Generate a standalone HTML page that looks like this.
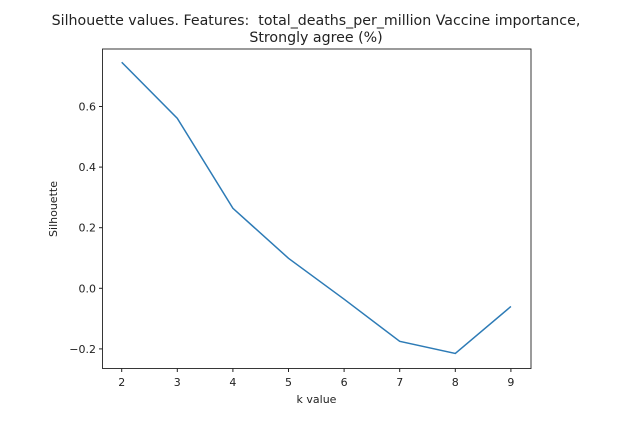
<!DOCTYPE html>
<html><head><meta charset="utf-8"><style>
body{margin:0;background:#fff;font-family:"Liberation Sans","DejaVu Sans",sans-serif}
svg text{font-family:"DejaVu Sans","Liberation Sans",sans-serif;fill:#222}
</style></head><body>
<svg id="chart" width="630" height="432" xmlns="http://www.w3.org/2000/svg">
<text x="316" y="25" font-size="14.2" text-anchor="middle">Silhouette values. Features:&#160; total_deaths_per_million Vaccine importance,</text>
<text x="316" y="42" font-size="14.2" text-anchor="middle">Strongly agree (%)</text>
<rect x="102.5" y="49" width="428.5" height="319.5" fill="none" stroke="#222" stroke-width="0.9"/>
<g id="xticks"></g>
<g id="yticks"></g>
<text x="316.5" y="403" font-size="11" text-anchor="middle">k value</text>
<text transform="translate(57,209) rotate(-90)" font-size="11" text-anchor="middle">Silhouette</text>
<path id="line" fill="none" stroke="#2d7bb6" stroke-width="1.5"/>
</svg>
<script>
const kValues=[2,3,4,5,6,7,8,9];
const silhouette=[0.746,0.561,0.264,0.099,-0.036,-0.175,-0.215,-0.06];
const xTicks=[2,3,4,5,6,7,8,9];
const yTicks=[-0.2,0.0,0.2,0.4,0.6];
const yTickLabels=["\u22120.2","0.0","0.2","0.4","0.6"];
const sx=v=>121.7+(v-2)*55.6;
const sy=v=>288.3-v*303;
const NS="http://www.w3.org/2000/svg";
const xg=document.getElementById('xticks'),yg=document.getElementById('yticks');
xTicks.forEach(t=>{
 const l=document.createElementNS(NS,'line');
 
 
 l.setAttribute('x1',sx(t));l.setAttribute('x2',sx(t));l.setAttribute('y1',368.5);l.setAttribute('y2',372);l.setAttribute('stroke','#222');
 xg.appendChild(l);
 const tx=document.createElementNS(NS,'text');
 
 
 tx.setAttribute('x',sx(t));tx.setAttribute('y',386);tx.setAttribute('font-size','11');tx.setAttribute('text-anchor','middle');
 tx.textContent=t;xg.appendChild(tx);
});
yTicks.forEach((t,i)=>{
 const l=document.createElementNS(NS,'line');
 
 
 l.setAttribute('x1',99);l.setAttribute('x2',102.5);l.setAttribute('y1',sy(t));l.setAttribute('y2',sy(t));l.setAttribute('stroke','#222');
 yg.appendChild(l);
 const tx=document.createElementNS(NS,'text');
 
 
 tx.setAttribute('x',96);tx.setAttribute('y',sy(t)+4);tx.setAttribute('font-size','11');tx.setAttribute('text-anchor','end');
 tx.textContent=yTickLabels[i];yg.appendChild(tx);
});
document.getElementById('line').setAttribute('d',kValues.map((k,i)=>(i?'L':'M')+sx(k)+','+sy(silhouette[i])).join(' '));
</script>
</body></html>
